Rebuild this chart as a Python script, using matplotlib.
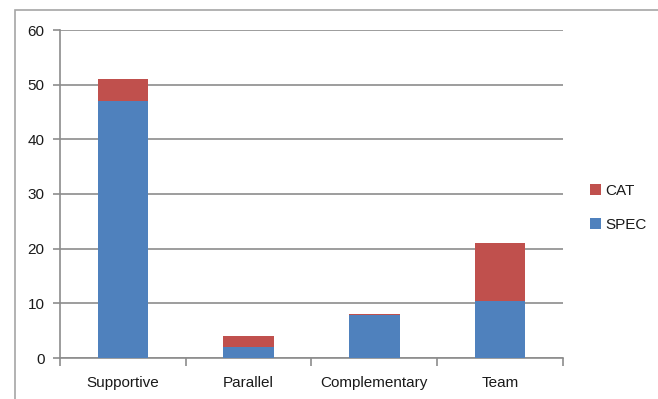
import numpy as np
import matplotlib.pyplot as plt
from matplotlib.patches import Rectangle

categories = ["Supportive", "Parallel", "Complementary", "Team"]
spec = [47, 2, 7.8, 10.4]
cat = [4, 2, 0.3, 10.6]

plt.rcParams['font.family'] = ['Liberation Sans', 'DejaVu Sans']

fig = plt.figure(figsize=(6.58, 3.99), dpi=100)
W, H = 658, 399
# plot area in pixels: left 60, right 563, top 30, bottom 358
ax = fig.add_axes([60 / W, 1 - 358 / H, (563 - 60) / W, (358 - 30) / H])

x = np.arange(len(categories))
ax.bar(x, spec, width=0.4, color="#4F81BD", label="SPEC", zorder=3)
ax.bar(x, cat, width=0.4, bottom=spec, color="#C0504D", label="CAT", zorder=3)

ax.set_xlim(-0.5, len(categories) - 0.5)
ax.set_ylim(0, 60)
ax.set_yticks(range(0, 61, 10))
ax.yaxis.grid(True, color="#8c8c8c", linewidth=1.2, zorder=0)

ax.set_xticks(x)
ax.set_xticklabels(categories)
ax.set_xticks(np.arange(-0.5, len(categories)), minor=True)
ax.tick_params(axis="x", which="major", length=0, pad=13, labelsize=11, colors="#1a1a1a")
ax.tick_params(axis="x", which="minor", length=6, color="#8c8c8c", width=1.2)
ax.tick_params(axis="y", length=5, width=1.2, labelsize=11, pad=6, labelcolor="#1a1a1a", color="#8c8c8c")

for side in ["top", "right"]:
    ax.spines[side].set_visible(False)
for side in ["left", "bottom"]:
    ax.spines[side].set_color("#8c8c8c")
    ax.spines[side].set_linewidth(1.2)

handles, labels = ax.get_legend_handles_labels()
fig.legend(handles[::-1], labels[::-1], loc="center left",
           bbox_to_anchor=(576 / W, 1 - 208 / H), frameon=False,
           fontsize=11, handlelength=0.75, handleheight=0.75,
           handletextpad=0.25, labelspacing=1.3, labelcolor="#1a1a1a")

# outer chart border
fig.add_artist(Rectangle((15 / W, -0.1), 2, 1 - 10 / H + 0.1,
                         transform=fig.transFigure, fill=False,
                         edgecolor="#a6a6a6", linewidth=1.2))

fig.savefig("out.png", dpi=100)
